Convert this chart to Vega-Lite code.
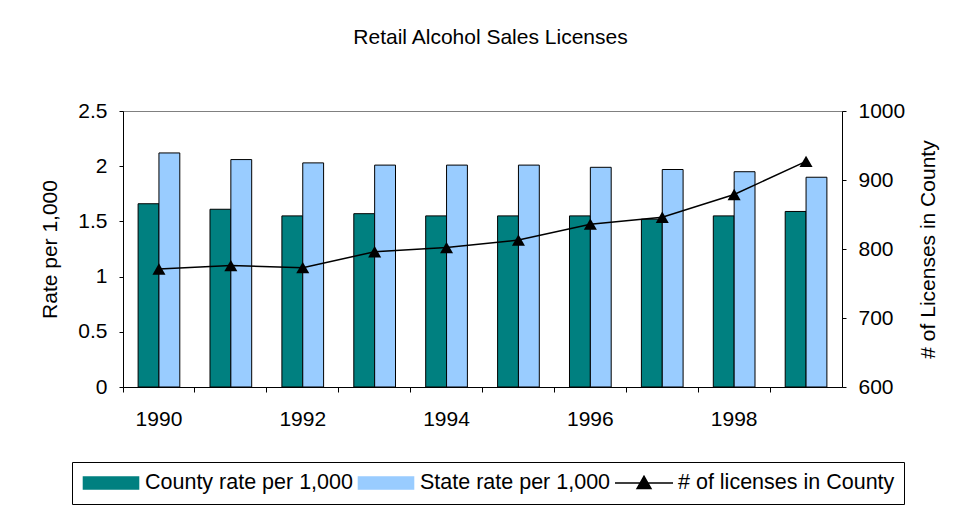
{
  "$schema": "https://vega.github.io/schema/vega-lite/v6.json",
  "width": 719,
  "height": 276,
  "autosize": "none",
  "padding": {"left": 123, "top": 111, "right": 114, "bottom": 120},
  "background": "white",
  "title": {"text": "Retail Alcohol Sales Licenses", "fontSize": 21, "font": "Liberation Sans", "fontWeight": "normal", "color": "black", "anchor": "middle", "frame": "group", "dx": 8, "offset": 52},
  "datasets": {
    "rates": [
      {"year": "1990", "series": "County rate per 1,000", "value": 1.66},
      {"year": "1990", "series": "State rate per 1,000", "value": 2.12},
      {"year": "1991", "series": "County rate per 1,000", "value": 1.61},
      {"year": "1991", "series": "State rate per 1,000", "value": 2.06},
      {"year": "1992", "series": "County rate per 1,000", "value": 1.55},
      {"year": "1992", "series": "State rate per 1,000", "value": 2.03},
      {"year": "1993", "series": "County rate per 1,000", "value": 1.57},
      {"year": "1993", "series": "State rate per 1,000", "value": 2.01},
      {"year": "1994", "series": "County rate per 1,000", "value": 1.55},
      {"year": "1994", "series": "State rate per 1,000", "value": 2.01},
      {"year": "1995", "series": "County rate per 1,000", "value": 1.55},
      {"year": "1995", "series": "State rate per 1,000", "value": 2.01},
      {"year": "1996", "series": "County rate per 1,000", "value": 1.55},
      {"year": "1996", "series": "State rate per 1,000", "value": 1.99},
      {"year": "1997", "series": "County rate per 1,000", "value": 1.52},
      {"year": "1997", "series": "State rate per 1,000", "value": 1.97},
      {"year": "1998", "series": "County rate per 1,000", "value": 1.55},
      {"year": "1998", "series": "State rate per 1,000", "value": 1.95},
      {"year": "1999", "series": "County rate per 1,000", "value": 1.59},
      {"year": "1999", "series": "State rate per 1,000", "value": 1.90}
    ],
    "licenses": [
      {"year": "1990", "series": "# of licenses in County", "count": 771},
      {"year": "1991", "series": "# of licenses in County", "count": 776},
      {"year": "1992", "series": "# of licenses in County", "count": 773},
      {"year": "1993", "series": "# of licenses in County", "count": 796},
      {"year": "1994", "series": "# of licenses in County", "count": 802},
      {"year": "1995", "series": "# of licenses in County", "count": 813},
      {"year": "1996", "series": "# of licenses in County", "count": 836},
      {"year": "1997", "series": "# of licenses in County", "count": 846},
      {"year": "1998", "series": "# of licenses in County", "count": 879},
      {"year": "1999", "series": "# of licenses in County", "count": 927}
    ]
  },
  "layer": [
    {
      "data": {"name": "rates"},
      "mark": {"type": "bar", "stroke": "black", "strokeWidth": 1, "opacity": 1},
      "encoding": {
        "x": {
          "field": "year", "type": "ordinal", "sort": null,
          "scale": {"paddingInner": 0.42, "paddingOuter": 0.21},
          "axis": {
            "title": null, "labelAngle": 0, "domainColor": "black", "tickColor": "black",
            "tickSize": 5, "bandPosition": -0.362,
            "labelExpr": "toNumber(datum.value) % 2 == 0 ? datum.label : ''",
            "labelPadding": 16, "labelFontSize": 21, "labelFont": "Liberation Sans", "labelColor": "black"
          }
        },
        "xOffset": {"field": "series", "type": "nominal", "sort": ["County rate per 1,000", "State rate per 1,000"]},
        "y": {
          "field": "value", "type": "quantitative",
          "scale": {"domain": [0, 2.5], "nice": false},
          "axis": {
            "title": "Rate per 1,000", "values": [0, 0.5, 1, 1.5, 2, 2.5], "format": "~g",
            "grid": false, "domainColor": "black", "tickColor": "black", "tickSize": 4, "labelPadding": 12,
            "labelFontSize": 21, "labelFont": "Liberation Sans", "labelColor": "black",
            "titleFontSize": 21, "titleFont": "Liberation Sans", "titleFontWeight": "normal", "titleColor": "black",
            "titleAngle": 270, "titleX": -73, "titleY": 138, "titleBaseline": "middle", "titleAlign": "center"
          }
        },
        "color": {
          "field": "series", "type": "nominal",
          "scale": {"domain": ["County rate per 1,000", "State rate per 1,000", "# of licenses in County"], "range": ["#008080", "#99CCFF", "#000000"]},
          "legend": {
            "title": null, "orient": "none", "legendX": -51, "legendY": 351, "direction": "horizontal",
            "strokeColor": "black", "fillColor": "white", "padding": 9, "clipHeight": 24,
            "labelFontSize": 21.5, "labelFont": "Liberation Sans", "labelColor": "black", "labelLimit": 400,
            "symbolSize": 3364, "symbolStrokeColor": "black", "symbolStrokeWidth": 1.5, "columnPadding": 3, "labelOffset": 4,
            "symbolOpacity": 1,
            "encode": {
              "symbols": {
                "update": {
                  "shape": {"signal": "datum.value == '# of licenses in County' ? 'M-1,0H1M-0.24,0.19L0,-0.23L0.24,0.19Z' : 'M-0.95,-0.21H0.95V0.21H-0.95Z'"},
                  "stroke": {"value": "black"},
                  "strokeWidth": {"value": 1.5},
                  "strokeOpacity": {"value": 1}
                }
              }
            }
          }
        }
      }
    },
    {
      "data": {"name": "licenses"},
      "encoding": {
        "x": {"field": "year", "type": "ordinal", "sort": null},
        "y": {
          "field": "count", "type": "quantitative",
          "scale": {"domain": [600, 1000], "nice": false},
          "axis": {
            "orient": "right", "title": "# of Licenses in County", "values": [600, 700, 800, 900, 1000], "format": "d",
            "grid": false, "domainColor": "black", "tickColor": "black", "tickSize": 4, "labelPadding": 12,
            "labelFontSize": 21, "labelFont": "Liberation Sans", "labelColor": "black",
            "titleFontSize": 21, "titleFont": "Liberation Sans", "titleFontWeight": "normal", "titleColor": "black",
            "titleAngle": 270, "titleX": 86, "titleY": 138, "titleBaseline": "middle", "titleAlign": "center"
          }
        }
      },
      "layer": [
        {
          "mark": {"type": "line", "strokeWidth": 1.5},
          "encoding": {
            "color": {
              "field": "series", "type": "nominal",
              "legend": {
                "title": null, "orient": "none", "legendX": -51, "legendY": 351, "direction": "horizontal",
                "strokeColor": "black", "fillColor": "white", "padding": 9, "clipHeight": 24,
                "labelFontSize": 21.5, "labelFont": "Liberation Sans", "labelColor": "black", "labelLimit": 400,
                "symbolSize": 3364, "symbolStrokeColor": "black", "symbolStrokeWidth": 1.5, "columnPadding": 3, "labelOffset": 4,
                "symbolOpacity": 1,
                "encode": {
                  "symbols": {
                    "update": {
                      "shape": {"signal": "datum.value == '# of licenses in County' ? 'M-1,0H1M-0.24,0.19L0,-0.23L0.24,0.19Z' : 'M-0.95,-0.21H0.95V0.21H-0.95Z'"},
                      "stroke": {"value": "black"},
                      "strokeWidth": {"value": 1.5},
                      "strokeOpacity": {"value": 1}
                    }
                  }
                }
              }
            }
          }
        },
        {
          "mark": {"type": "point", "shape": "triangle-up", "filled": true, "size": 170, "color": "black", "opacity": 1},
          "encoding": {}
        }
      ]
    }
  ],
  "resolve": {"scale": {"y": "independent"}},
  "config": {
    "view": {"stroke": "#808080", "strokeWidth": 1},
    "axis": {"domainWidth": 1, "tickWidth": 1}
  }
}
